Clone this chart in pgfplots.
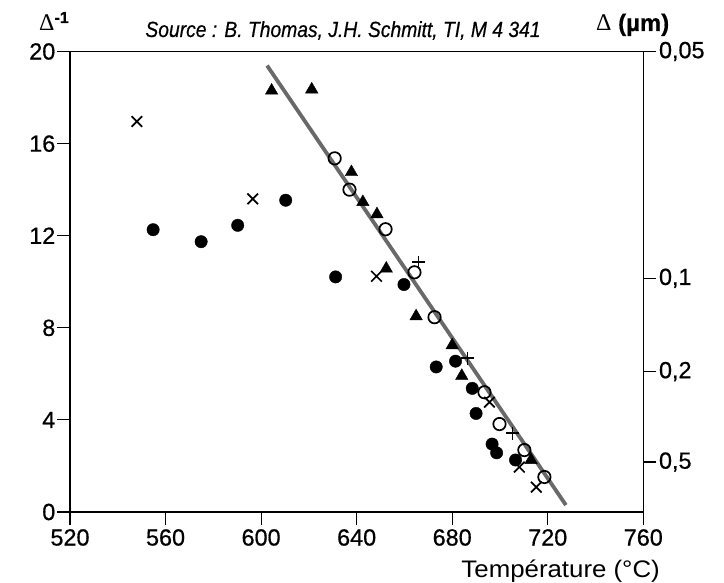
\documentclass[border=0pt]{standalone}
\usepackage{fontspec}
\setmainfont{Liberation Sans}[FakeBold=0.6]
\newfontfamily\serifdelta{Liberation Serif}
\newfontfamily\titlefont[FakeStretch=0.88,FakeBold=0.5]{Liberation Sans}
\newfontfamily\widefont[FakeStretch=1.08]{Liberation Sans}
\usepackage{pgfplots}
\pgfplotsset{compat=1.18}
\definecolor{fitgray}{RGB}{105,105,105}

\begin{document}
\begin{tikzpicture}
\pgfplotsset{
  every axis/.append style={
    scale only axis, width=573.3bp, height=460.5bp,
    xmin=520, xmax=760, ymin=0, ymax=20,
    tick align=outside, major tick length=13bp,
    axis line style={line width=1.1bp},
    every tick/.style={line width=1.1bp, black},
    ticklabel style={font=\fontsize{23.5}{27}\selectfont},
    /pgf/number format/assume math mode=true,
  }
}
\begin{axis}[
  xtick={520,560,...,760}, ytick={0,4,...,20},
  xtick pos=lower, ytick pos=lower,
  xticklabel style={inner sep=4bp},
  yticklabel style={inner sep=1.5bp},
]
% droite de regression
\addplot[no marks, line width=3.8bp, color=fitgray] coordinates {(602.5,19.39) (727.6,0.3)};

% points noirs
\addplot[only marks, mark=*, mark size=6.2bp, black] coordinates {
  (554.8,12.26) (574.9,11.74) (590.2,12.45) (610.3,13.54) (631.2,10.21)
  (659.8,9.88) (673.3,6.3) (681.4,6.55) (688.4,5.37) (690,4.28)
  (696.7,2.95) (698.6,2.57) (706.5,2.26)
};
% triangles noirs
\addplot[only marks, mark=triangle*, mark size=7.2bp, black] coordinates {
  (604.4,18.3) (621.2,18.35) (637.8,14.76) (642.6,13.46) (648.5,12.93)
  (652.4,10.57) (664.9,8.5) (680,7.24) (684,5.91) (713,2.26)
};
% croix
\addplot[only marks, mark=x, mark size=7.5bp, line width=1.7bp, black] coordinates {
  (548,16.96) (596.5,13.6) (648.3,10.24) (695.6,4.77) (708.1,1.95) (715.2,1.08)
};
% plus
\addplot[only marks, mark=+, mark size=6.5bp, line width=1.7bp, black] coordinates {
  (665.9,10.85) (686.4,6.68) (705.2,3.42)
};
% cercles ouverts
\addplot[only marks, mark=o, mark size=6.2bp, line width=1.7bp, black,
  mark options={fill=white}] coordinates {
  (630.8,15.36) (637,14.0) (652.1,12.28) (664.2,10.41) (672.6,8.46)
  (693.5,5.2) (699.8,3.82) (710.2,2.69) (718.6,1.52)
};
\coordinate (ll) at (rel axis cs:0,0);
\end{axis}

\begin{axis}[
  axis x line=none, axis y line*=right,
  ytick={20,10.15,6.1,2.17},
  yticklabels={{0,05},{0,1},{0,2},{0,5}},
  yticklabel style={inner sep=2.5bp},
]
\addplot[draw=none] coordinates {(520,0) (760,20)};
\end{axis}

\node[anchor=base west, inner sep=0pt] at ([shift={(-31bp,481bp)}]ll)
  {{\serifdelta\fontsize{24}{28}\selectfont\char"0394}\raisebox{8bp}{\fontsize{16}{19}\selectfont\bfseries -1}};
\node[anchor=base west, inner sep=0pt] at ([shift={(526bp,481bp)}]ll)
  {{\serifdelta\fontsize{24}{28}\selectfont\char"0394}\fontsize{24}{28}\selectfont\bfseries\ (µm)};
\node[anchor=base, inner sep=0pt] at ([shift={(273bp,475bp)}]ll)
  {\titlefont\itshape\fontsize{22}{26}\selectfont Source : B. Thomas, J.H. Schmitt, TI, M 4 341};
\node[anchor=base east, inner sep=0pt] at ([shift={(590bp,-65bp)}]ll)
  {\widefont\fontsize{24}{28}\selectfont Température (°C)};

\pgfresetboundingbox
\path[use as bounding box] ([shift={(-70bp,-71bp)}]ll) rectangle ([shift={(654bp,512bp)}]ll);
\end{tikzpicture}
\end{document}
